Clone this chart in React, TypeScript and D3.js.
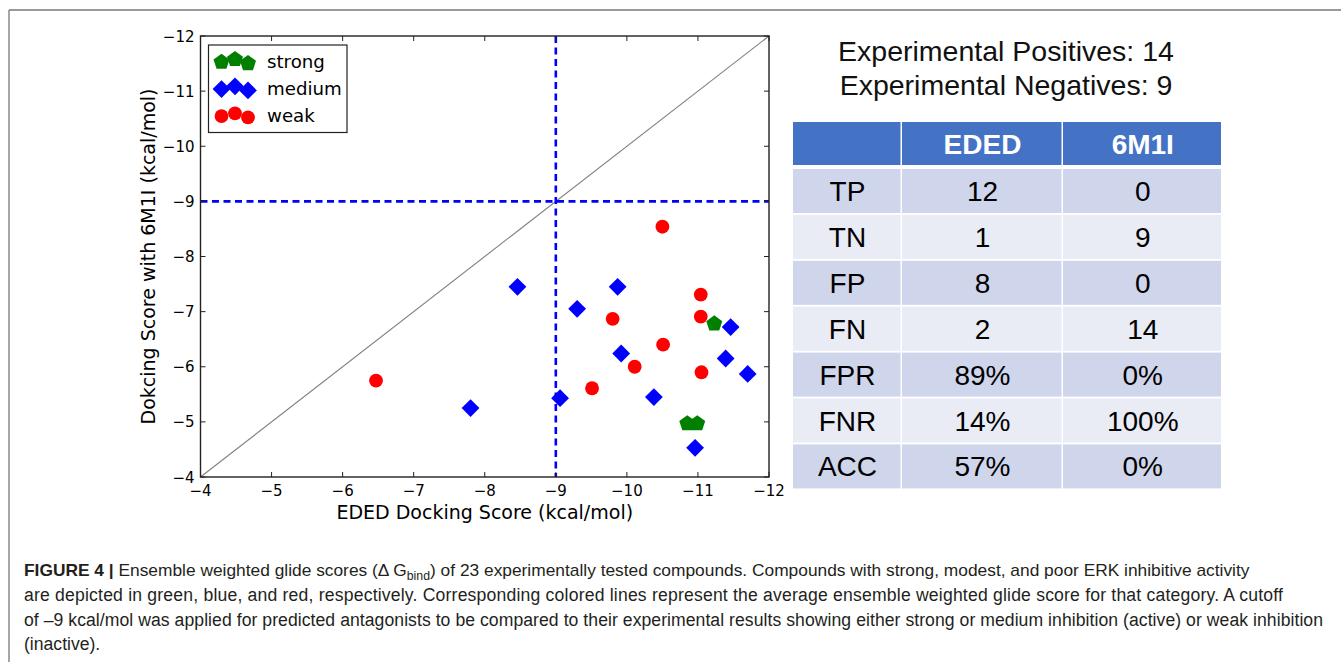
import React from "react";
import * as d3 from "d3";

// ---------- data ----------
const strongX = [-11.23, -10.85, -10.99];
const strongY = [-6.78, -4.97, -4.97];
const mediumX = [-8.46, -7.8, -9.87, -9.3, -9.92, -9.06, -10.38, -11.46, -11.39, -11.7, -10.96];
const mediumY = [-7.45, -5.25, -7.45, -7.05, -6.24, -5.43, -5.45, -6.72, -6.15, -5.87, -4.53];
const weakX = [-6.47, -10.5, -11.04, -9.8, -11.04, -10.51, -10.11, -11.05, -9.51];
const weakY = [-5.75, -8.54, -7.31, -6.87, -6.91, -6.4, -6.0, -5.9, -5.61];
const axisTicks = [-4, -5, -6, -7, -8, -9, -10, -11, -12];
const cutoff = -9;
const legendLabels = ["strong", "medium", "weak"];

const summaryLines = ["Experimental Positives: 14", "Experimental Negatives: 9"];
const tableHeaders = ["", "EDED", "6M1I"];
const rowLabels = ["TP", "TN", "FP", "FN", "FPR", "FNR", "ACC"];
const ededValues = ["12", "1", "8", "2", "89%", "14%", "57%"];
const m1iValues = ["0", "9", "0", "14", "0%", "100%", "0%"];

const GREEN = "#007f00";
const BLUE = "#0000ff";
const RED = "#ff0000";

// ---------- marker shapes ----------
const pentagonPath = (r: number) => {
  const pts = d3.range(5).map((i) => {
    const a = -Math.PI / 2 + (i * 2 * Math.PI) / 5;
    return [r * Math.cos(a), r * Math.sin(a)];
  });
  return "M" + pts.map((p) => p.join(",")).join("L") + "Z";
};
const diamondPath = (r: number) => `M0,${-r}L${r},0L0,${r}L${-r},0Z`;
const circlePath = d3.symbol(d3.symbolCircle, Math.PI * 6.9 * 6.9)() as string;

const shapes: Record<string, string> = {
  strong: pentagonPath(8.4),
  medium: diamondPath(8.9),
  weak: circlePath,
};
const colors: Record<string, string> = { strong: GREEN, medium: BLUE, weak: RED };

const fmt = (v: number) => (v < 0 ? "\u2212" + Math.abs(v) : String(v));

export default function App() {
  const left = 200.5, right = 769, top = 36, bottom = 477;
  const x = d3.scaleLinear().domain([-4, -12]).range([left, right]);
  const y = d3.scaleLinear().domain([-4, -12]).range([bottom, top]);
  const tickLen = 5;
  const mpl = "'DejaVu Sans', sans-serif";
  const arial = "'Liberation Sans', Arial, sans-serif";

  const series = [
    { key: "strong", xs: strongX, ys: strongY },
    { key: "medium", xs: mediumX, ys: mediumY },
    { key: "weak", xs: weakX, ys: weakY },
  ];

  // table geometry
  const colX = [793, 902, 1063, 1222.5];
  const headerTop = 122, headerH = 43;
  const rowTop0 = 169, rowPitch = 45.9, rowH = 44;

  const legendOffsets = [0.375, 0.5, 0.3125];

  return (
    <svg
      width={1341}
      height={662}
      style={{ position: "absolute", left: 0, top: 0, background: "#fff" }}
    >
      {/* outer frame */}
      <line x1={9} y1={10} x2={1341} y2={10} stroke="#777" strokeWidth={1.3} />
      <line x1={9} y1={10} x2={9} y2={662} stroke="#777" strokeWidth={1.3} />

      {/* diagonal */}
      <line x1={x(-4)} y1={y(-4)} x2={x(-12)} y2={y(-12)} stroke="#808080" strokeWidth={1.1} />
      {/* cutoff lines */}
      <line x1={x(cutoff)} y1={top} x2={x(cutoff)} y2={bottom} stroke={BLUE} strokeWidth={2.6} strokeDasharray="7,4.5" />
      <line x1={left} y1={y(cutoff)} x2={right} y2={y(cutoff)} stroke={BLUE} strokeWidth={2.6} strokeDasharray="7,4.5" />

      {/* points */}
      {series.map((s) =>
        s.xs.map((xv, i) => (
          <path
            key={s.key + i}
            d={shapes[s.key]}
            transform={`translate(${x(xv)},${y(s.ys[i])})`}
            fill={colors[s.key]}
          />
        ))
      )}

      {/* spines */}
      <rect x={left} y={top} width={right - left} height={bottom - top} fill="none" stroke="#222" strokeWidth={1.4} />

      {/* ticks */}
      {axisTicks.map((t) => (
        <g key={"t" + t}>
          <line x1={x(t)} x2={x(t)} y1={bottom} y2={bottom - tickLen} stroke="#222" strokeWidth={1} />
          <line x1={x(t)} x2={x(t)} y1={top} y2={top + tickLen} stroke="#222" strokeWidth={1} />
          <line y1={y(t)} y2={y(t)} x1={left} x2={left + tickLen} stroke="#222" strokeWidth={1} />
          <line y1={y(t)} y2={y(t)} x1={right} x2={right - tickLen} stroke="#222" strokeWidth={1} />
          <text x={x(t)} y={bottom + 19} textAnchor="middle" fontFamily={mpl} fontSize={15} fill="#000">
            {fmt(t)}
          </text>
          <text x={left - 6} y={y(t) + 5.5} textAnchor="end" fontFamily={mpl} fontSize={15} fill="#000">
            {fmt(t)}
          </text>
        </g>
      ))}

      {/* axis labels */}
      <text x={(left + right) / 2} y={519} textAnchor="middle" fontFamily={mpl} fontSize={19} fill="#000">
        EDED Docking Score (kcal/mol)
      </text>
      <text
        transform={`translate(155,${(top + bottom) / 2}) rotate(-90)`}
        textAnchor="middle"
        fontFamily={mpl}
        fontSize={19}
        fill="#000"
      >
        Dokcing Score with 6M1I (kcal/mol)
      </text>

      {/* legend */}
      <rect x={208.5} y={45} width={138.5} height={87.5} fill="#fff" stroke="#222" strokeWidth={1.2} />
      {legendLabels.map((lab, r) => {
        const rowY = 61.5 + r * 27;
        return (
          <g key={lab}>
            {[221.5, 235, 248].map((mx, k) => (
              <path
                key={k}
                d={shapes[lab]}
                transform={`translate(${mx},${rowY + (0.4 - legendOffsets[k]) * 22})`}
                fill={colors[lab]}
              />
            ))}
            <text x={267} y={rowY + 6.5} fontFamily={mpl} fontSize={18.2} fill="#000">
              {lab}
            </text>
          </g>
        );
      })}

      {/* summary text */}
      {summaryLines.map((s, i) => (
        <text key={s} x={1006} y={61 + i * 34} textAnchor="middle" fontFamily={arial} fontSize={28.5} fill="#111">
          {s}
        </text>
      ))}

      {/* table */}
      {tableHeaders.map((h, c) => (
        <g key={"h" + c}>
          <rect x={colX[c]} y={headerTop} width={colX[c + 1] - colX[c] - 1.5} height={headerH} fill="#4472c4" />
          <text
            x={(colX[c] + colX[c + 1]) / 2}
            y={headerTop + headerH / 2 + 10}
            textAnchor="middle"
            fontFamily={arial}
            fontWeight="bold"
            fontSize={28}
            fill="#fff"
          >
            {h}
          </text>
        </g>
      ))}
      {rowLabels.map((lab, r) => {
        const ry = rowTop0 + r * rowPitch;
        const cells = [lab, ededValues[r], m1iValues[r]];
        return (
          <g key={lab}>
            {cells.map((c, ci) => (
              <g key={ci}>
                <rect
                  x={colX[ci]}
                  y={ry}
                  width={colX[ci + 1] - colX[ci] - 1.5}
                  height={rowH}
                  fill={r % 2 === 0 ? "#cfd5ea" : "#e9ebf5"}
                />
                <text
                  x={(colX[ci] + colX[ci + 1]) / 2}
                  y={ry + rowH / 2 + 10}
                  textAnchor="middle"
                  fontFamily={arial}
                  fontSize={28}
                  fill="#000"
                >
                  {c}
                </text>
              </g>
            ))}
          </g>
        );
      })}

      {/* caption */}
      <g fontFamily={arial} fontSize={17.6} fill="#231f20">
        <text x={24} y={576} fontSize={17.35}>
          <tspan fontWeight="bold">FIGURE 4 | </tspan>
          <tspan>Ensemble weighted glide scores (Δ G</tspan>
          <tspan fontSize={12.3} dy={4}>bind</tspan>
          <tspan dy={-4}>) of 23 experimentally tested compounds. Compounds with strong, modest, and poor ERK inhibitive activity</tspan>
        </text>
        <text x={24} y={601} textLength={1259} lengthAdjust="spacing">
          are depicted in green, blue, and red, respectively. Corresponding colored lines represent the average ensemble weighted glide score for that category. A cutoff
        </text>
        <text x={24} y={626} textLength={1299} lengthAdjust="spacing">
          of –9 kcal/mol was applied for predicted antagonists to be compared to their experimental results showing either strong or medium inhibition (active) or weak inhibition
        </text>
        <text x={24} y={650}>(inactive).</text>
      </g>
    </svg>
  );
}
